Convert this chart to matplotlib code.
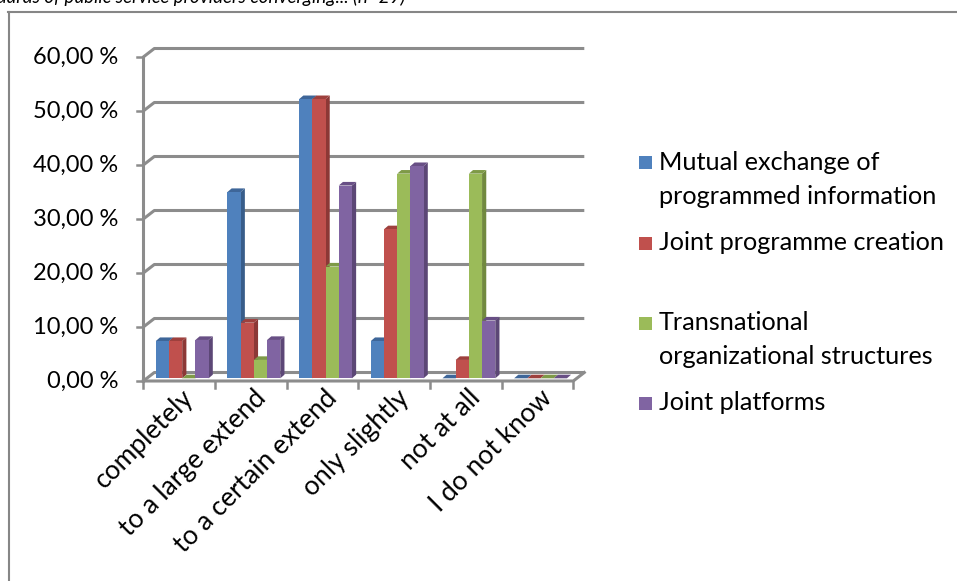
import numpy as np
import matplotlib.pyplot as plt
from matplotlib.patches import Polygon, Rectangle
from matplotlib.lines import Line2D

# data (percent)
categories = ['completely', 'to a large extend', 'to a certain extend',
              'only slightly', 'not at all', 'I do not know']
series = [['Mutual exchange of', 'programmed information'],
          ['Joint programme creation'],
          ['Transnational', 'organizational structures'],
          ['Joint platforms']]
mutual = [6.9, 34.5, 51.7, 6.9, 0.0, 0.0]
joint_prog = [6.9, 10.3, 51.7, 27.6, 3.4, 0.0]
transnational = [0.0, 3.4, 20.7, 37.9, 37.9, 0.0]
platforms = [7.1, 7.1, 35.7, 39.3, 10.7, 0.0]
yticks = [0, 10, 20, 30, 40, 50, 60]

values = [mutual, joint_prog, transnational, platforms]
front_col = ['#4F81BD', '#C0504D', '#9BBB59', '#8064A2']
side_col = ['#385D8A', '#8C3836', '#71893F', '#5C4776']
top_col = ['#3E6699', '#9E403D', '#7E9A47', '#684F85']

plt.rcParams['font.family'] = ['Lato', 'DejaVu Sans']

W, H = 957, 581
fig = plt.figure(figsize=(W / 100, H / 100), dpi=100)

# front plane of the pseudo 3d box, in pixels
x0, x1 = 143.3, 573.3
y0, y60 = 381, 57
ax = fig.add_axes([x0 / W, (H - y0) / H, (x1 - x0) / W, (y0 - y60) / H])
ax.set_xlim(0, 6)
ax.set_ylim(0, 60)
ax.axis('off')

pxx = (x1 - x0) / 6.0
pxy = (y0 - y60) / 60.0
# wall depth offset
wdx, wdy = 11 / pxx, 8.5 / pxy
# bar placement offset and bar depth
bdx, bdy = 3.5 / pxx, 2.7 / pxy
sdx, sdy = 4.2 / pxx, 3.6 / pxy
bw = 13.2 / pxx
gstart = 9.0 / pxx

grid_c = '#8C8C8C'
for v in yticks:
    ax.add_line(Line2D([0, wdx, 6 + wdx], [v, v + wdy, v + wdy], color=grid_c,
                       lw=2.2, zorder=1, clip_on=False, solid_capstyle='butt'))
    ax.add_line(Line2D([-6.5 / pxx, 0], [v, v], color=grid_c, lw=1.8,
                       zorder=1, clip_on=False))
# front axis and floor
ax.add_line(Line2D([0, 0], [0, 60], color=grid_c, lw=2.2, zorder=1, clip_on=False))
ax.add_line(Line2D([0, 6, 6 + wdx], [0, 0, wdy], color=grid_c, lw=2.2,
                   zorder=1, clip_on=False))
for c in range(7):
    ax.add_line(Line2D([c, c], [0, -6.5 / pxy], color=grid_c, lw=1.8,
                       zorder=1, clip_on=False))

for c in range(6):
    for i in range(4):
        v = values[i][c]
        xl = c + gstart + bdx + i * bw
        xr = xl + bw
        yb = bdy
        yt = v + bdy
        z = 3 + c * 10 + i
        side = Polygon([(xr, yb), (xr, yt), (xr + sdx, yt + sdy), (xr + sdx, yb + sdy)],
                       closed=True, facecolor=side_col[i], edgecolor='none',
                       zorder=z, clip_on=False)
        top = Polygon([(xl, yt), (xr, yt), (xr + sdx, yt + sdy), (xl + sdx, yt + sdy)],
                      closed=True, facecolor=top_col[i], edgecolor='none',
                      zorder=z, clip_on=False)
        ax.add_patch(side)
        ax.add_patch(top)
        if v > 0:
            ax.bar(xl, v, width=bw, bottom=yb, align='edge', color=front_col[i],
                   edgecolor='none', zorder=z + 0.5, clip_on=False)

# y tick labels
for v in yticks:
    ax.text(-25 / pxx, v, ('%.2f %%' % v).replace('.', ','), ha='right',
            va='center', fontsize=17, color='#000000')

# category labels
for c, lab in enumerate(categories):
    ax.text(c + 0.5 + 11 / pxx, -13 / pxy, lab, rotation=45, rotation_mode='anchor',
            ha='right', va='center', fontsize=19)

# legend
leg_y = [[162, 196], [243], [323, 356], [403]]
for i, lines in enumerate(series):
    fig.patches.append(Rectangle((639 / W, 1 - (leg_y[i][0] + 6.5) / H), 13 / W, 13 / H,
                                 transform=fig.transFigure, facecolor=front_col[i],
                                 edgecolor='none'))
    for ly, txt in zip(leg_y[i], lines):
        fig.text(659 / W, 1 - ly / H, txt, ha='left', va='center',
                 fontsize=18.2)

# outer chart border
fig.add_artist(Line2D([8 / W, 1], [1 - 12 / H, 1 - 12 / H], color='#868686', lw=1.5,
                      transform=fig.transFigure))
fig.add_artist(Line2D([9 / W, 9 / W], [1 - 12 / H, 0], color='#868686', lw=1.5,
                      transform=fig.transFigure))

# clipped caption above the chart
fig.text(405 / W, 1 - 3 / H,
         'To what extent are the standards of public service providers converging... (n=29)',
         ha='right', va='baseline', fontsize=13.5, style='italic')

fig.savefig('out.png', dpi=100)
